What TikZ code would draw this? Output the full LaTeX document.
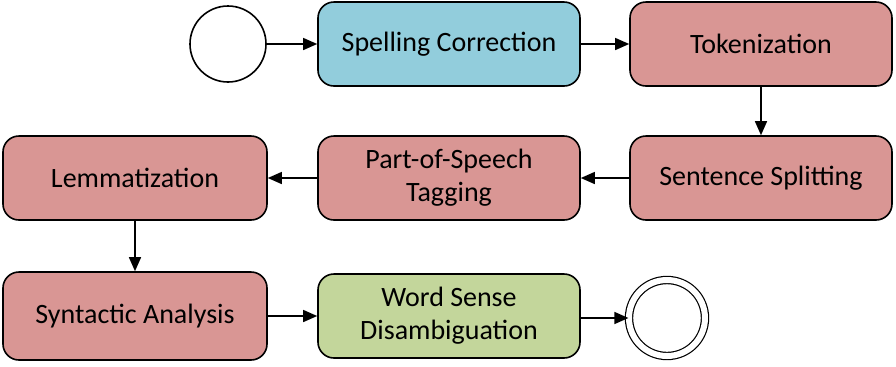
\documentclass[tikz,border=0pt]{standalone}
\usepackage{fontspec}
\setmainfont{Carlito}
\usetikzlibrary{arrows.meta}
\definecolor{stepblue}{HTML}{92CDDC}
\definecolor{stepred}{HTML}{D99694}
\definecolor{stepgreen}{HTML}{C3D69B}
\tikzset{
  stepbox/.style={draw,line width=0.8pt,rounded corners=8pt,minimum width=131pt,
    minimum height=42pt,align=center,font=\fontsize{14}{16.5}\selectfont},
  flow/.style={line width=0.7pt,-{Triangle[length=7pt,width=6pt]}}
}
\begin{document}
\begin{tikzpicture}[x=0.5pt,y=-0.5pt]
  \useasboundingbox (0,0) rectangle (896,366);
  \node[draw,circle,line width=0.8pt,minimum size=38pt] (start) at (228,44) {};
  \node[stepbox,fill=stepblue] (spell) at (449,44) {Spelling Correction};
  \node[stepbox,fill=stepred] (token) at (761,44) {Tokenization};
  \node[stepbox,fill=stepred] (sent) at (761,178) {Sentence Splitting};
  \node[stepbox,fill=stepred] (pos) at (449,178) {Part-of-Speech\\Tagging};
  \node[stepbox,fill=stepred,minimum width=132pt] (lemma) at (135,178) {Lemmatization};
  \node[stepbox,fill=stepred,minimum width=132pt,minimum height=44pt] (synt) at (135,316) {Syntactic Analysis};
  \node[stepbox,fill=stepgreen] (wsd) at (449,316) {Word Sense\\Disambiguation};
  \node[draw,circle,line width=0.6pt,minimum size=38pt,double,double distance=3pt] (end) at (667,318) {};
  % connectors
  \draw[flow] (start) -- (spell);
  \draw[flow] (spell) -- (token);
  \draw[flow] (token) -- (sent);
  \draw[flow] (sent) -- (pos);
  \draw[flow] (pos) -- (lemma);
  \draw[flow] (lemma) -- (synt);
  \draw[flow] (synt.east) -- (synt.east -| wsd.west);
  \draw[flow] (wsd.east |- end) -- (end);
\end{tikzpicture}
\end{document}
